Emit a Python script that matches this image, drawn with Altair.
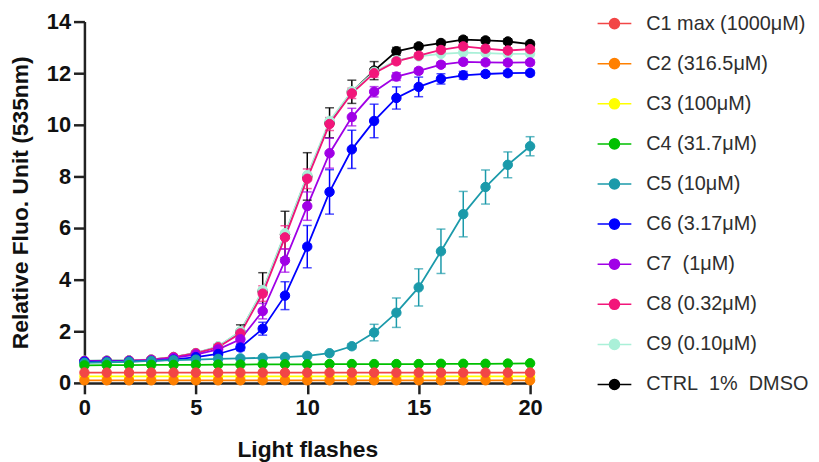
import altair as alt
import pandas as pd

flashes = list(range(21))

names = ["C1 max (1000μM)", "C2 (316.5μM)", "C3 (100μM)", "C4 (31.7μM)", "C5 (10μM)",
         "C6 (3.17μM)", "C7\u00a0\u00a0(1μM)", "C8 (0.32μM)", "C9 (0.10μM)", "CTRL\u00a0 1%\u00a0 DMSO"]
colors = ["#f24646", "#ff8000", "#ffff00", "#00c000", "#1b9aaa",
          "#0000ff", "#a000e6", "#f2167a", "#aaf0d8", "#000000"]

c1 = [0.40, 0.40, 0.40, 0.40, 0.40, 0.40, 0.40, 0.40, 0.40, 0.40, 0.40, 0.40, 0.40, 0.40, 0.40, 0.40, 0.40, 0.40, 0.40, 0.40, 0.40]
c2 = [0.10, 0.10, 0.10, 0.10, 0.10, 0.10, 0.10, 0.10, 0.10, 0.10, 0.10, 0.10, 0.10, 0.10, 0.10, 0.10, 0.10, 0.10, 0.10, 0.10, 0.10]
c3 = [0.25, 0.25, 0.25, 0.25, 0.25, 0.25, 0.25, 0.25, 0.25, 0.25, 0.25, 0.25, 0.25, 0.25, 0.25, 0.25, 0.25, 0.25, 0.25, 0.25, 0.25]
c4 = [0.68, 0.69, 0.69, 0.70, 0.70, 0.70, 0.71, 0.71, 0.72, 0.72, 0.72, 0.73, 0.73, 0.73, 0.73, 0.73, 0.74, 0.74, 0.74, 0.75, 0.76]
c5 = [0.78, 0.80, 0.82, 0.85, 0.88, 0.90, 0.93, 0.95, 0.97, 1.00, 1.05, 1.15, 1.42, 1.95, 2.72, 3.70, 5.10, 6.54, 7.59, 8.45, 9.17]
c6 = [0.82, 0.82, 0.83, 0.85, 0.90, 1.00, 1.12, 1.37, 2.10, 3.38, 5.28, 7.40, 9.05, 10.15, 11.04, 11.47, 11.78, 11.92, 11.97, 12.00, 12.01]
c7 = [0.84, 0.84, 0.85, 0.88, 0.97, 1.10, 1.30, 1.69, 2.78, 4.74, 6.85, 8.90, 10.30, 11.28, 11.87, 12.09, 12.33, 12.44, 12.42, 12.41, 12.42]
c8 = [0.85, 0.85, 0.86, 0.90, 1.00, 1.15, 1.38, 1.92, 3.46, 5.64, 7.91, 10.03, 11.22, 12.00, 12.46, 12.68, 12.90, 13.04, 12.95, 12.88, 12.93]
c9 = [0.86, 0.86, 0.87, 0.91, 1.01, 1.16, 1.42, 2.00, 3.60, 5.80, 8.05, 10.15, 11.30, 12.05, 12.50, 12.65, 12.75, 12.80, 12.78, 12.75, 12.75]
ctrl = [0.85, 0.86, 0.87, 0.90, 1.00, 1.15, 1.40, 1.98, 3.55, 5.75, 8.00, 10.08, 11.28, 12.10, 12.85, 13.04, 13.17, 13.30, 13.27, 13.23, 13.13]

e_flat = [0.0] * 21
e5 = [0, 0, 0, 0, 0, 0, 0, 0, 0, 0, 0, 0, 0.10, 0.32, 0.57, 0.72, 0.86, 0.88, 0.66, 0.50, 0.37]
e6 = [0, 0, 0, 0, 0, 0, 0.05, 0.12, 0.25, 0.54, 0.82, 0.86, 0.74, 0.65, 0.43, 0.38, 0.20, 0.15, 0.10, 0.10, 0.10]
e7 = [0, 0, 0, 0, 0, 0, 0.05, 0.15, 0.30, 0.45, 0.55, 0.58, 0.34, 0.20, 0.15, 0.10, 0.10, 0.10, 0.10, 0.10, 0.10]
e8 = [0, 0, 0, 0, 0, 0.05, 0.08, 0.15, 0.30, 0.45, 0.38, 0.25, 0.20, 0.15, 0.10, 0.10, 0.10, 0.10, 0.10, 0.10, 0.10]
e9 = [0.0] * 21
ectrl = [0, 0, 0, 0, 0, 0.05, 0.10, 0.27, 0.72, 0.90, 0.92, 0.58, 0.45, 0.35, 0.15, 0.10, 0.10, 0.10, 0.10, 0.10, 0.10]

means = [c1, c2, c3, c4, c5, c6, c7, c8, c9, ctrl]
errs = [e_flat, e_flat, e_flat, e_flat, e5, e6, e7, e8, e9, ectrl]

rows = []
for name, m, e in reversed(list(zip(names, means, errs))):
    for x, v, s in zip(flashes, m, e):
        rows.append({"series": name, "flash": x, "value": v, "err": s, "lo": v - s, "hi": v + s})
df = pd.DataFrame(rows)

FONT = "Liberation Sans"
cscale = alt.Scale(domain=names, range=colors)

x_enc = alt.X("flash:Q", scale=alt.Scale(domain=[0, 20], nice=False, zero=False),
              axis=alt.Axis(values=[0, 5, 10, 15, 20], title="Light flashes", format="d"))
y_axis = alt.Axis(values=list(range(0, 15, 2)), title="Relative Fluo. Unit (535nm)")
y_scale = alt.Scale(domain=[0, 14], nice=False)

SYMBOL = "M-1,0L1,0M-0.3,0A0.3,0.3,0,1,1,0.3,0A0.3,0.3,0,1,1,-0.3,0Z"
legend = alt.Legend(title=None, orient="none", legendX=516, legendY=-16,
                    symbolType=SYMBOL, symbolSize=1156, symbolStrokeWidth=1.5,
                    labelFont=FONT, labelFontSize=20, labelColor="#2e2e2e",
                    labelOffset=14, rowPadding=12.4, padding=0, labelLimit=0)

base = alt.Chart(df)
stroke_enc = alt.Stroke("series:N", scale=cscale, legend=legend)
fill_enc = alt.Fill("series:N", scale=cscale, legend=legend)

lines = base.mark_line(strokeWidth=1.8).encode(
    x=x_enc,
    y=alt.Y("value:Q", scale=y_scale, axis=y_axis),
    stroke=stroke_enc,
    detail="series:N",
)

eb = base.transform_filter("datum.err > 0")
stems = eb.mark_rule(strokeWidth=1.5).encode(
    x=x_enc,
    y=alt.Y("lo:Q", scale=y_scale, axis=y_axis),
    y2="hi:Q",
    stroke=stroke_enc,
)
caps_lo = eb.mark_tick(orient="horizontal", size=9, thickness=1.5).encode(
    x=x_enc,
    y=alt.Y("lo:Q", scale=y_scale, axis=y_axis),
    fill=fill_enc,
)
caps_hi = eb.mark_tick(orient="horizontal", size=9, thickness=1.5).encode(
    x=x_enc,
    y=alt.Y("hi:Q", scale=y_scale, axis=y_axis),
    fill=fill_enc,
)

points = base.mark_point(filled=True, size=90, opacity=1, strokeWidth=1).encode(
    x=x_enc,
    y=alt.Y("value:Q", scale=y_scale, axis=y_axis),
    fill=fill_enc,
    stroke=stroke_enc,
)

chart = alt.layer(lines, stems, caps_lo, caps_hi, points).properties(
    width=449, height=364,
    autosize=alt.AutoSizeParams(type="none"),
    padding={"left": 77, "top": 12, "right": 283, "bottom": 78},
).configure_view(stroke=None).configure_axis(
    grid=False, labelFlush=False,
    labelFont=FONT, labelFontSize=22, labelFontWeight="bold", labelColor="#111111",
    titleFont=FONT, titleFontSize=23, titleFontWeight="bold", titleColor="#111111",
    tickSize=11, tickWidth=2.5, tickColor="#222222",
    domainWidth=2.5, domainColor="#222222",
).configure_axisX(labelPadding=4, titlePadding=20).configure_axisY(labelPadding=3, titlePadding=14)

chart.save("out.html", embed_options={"renderer": "svg", "actions": False})
